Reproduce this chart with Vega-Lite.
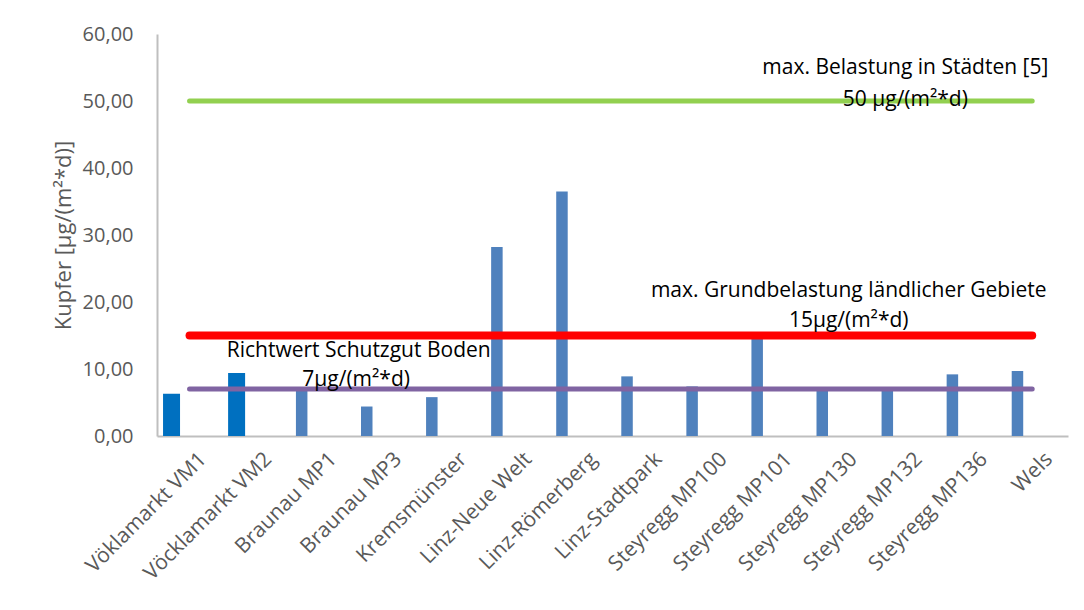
{
  "$schema": "https://vega.github.io/schema/vega-lite/v6.json",
  "width": 911,
  "height": 402,
  "autosize": {"type": "none"},
  "padding": {"left": 157, "top": 34, "right": 16, "bottom": 174},
  "background": "white",
  "config": {
    "view": {"stroke": null},
    "font": "Open Sans",
    "text": {"font": "Open Sans"}
  },
  "datasets": {
    "messung": [
      {"messstelle": "Vöklamarkt VM1", "wert": 6.3, "gruppe": "VM"},
      {"messstelle": "Vöcklamarkt VM2", "wert": 9.4, "gruppe": "VM"},
      {"messstelle": "Braunau MP1", "wert": 7.2, "gruppe": "MP"},
      {"messstelle": "Braunau MP3", "wert": 4.4, "gruppe": "MP"},
      {"messstelle": "Kremsmünster", "wert": 5.8, "gruppe": "MP"},
      {"messstelle": "Linz-Neue Welt", "wert": 28.2, "gruppe": "MP"},
      {"messstelle": "Linz-Römerberg", "wert": 36.5, "gruppe": "MP"},
      {"messstelle": "Linz-Stadtpark", "wert": 8.9, "gruppe": "MP"},
      {"messstelle": "Steyregg MP100", "wert": 7.4, "gruppe": "MP"},
      {"messstelle": "Steyregg MP101", "wert": 14.6, "gruppe": "MP"},
      {"messstelle": "Steyregg MP130", "wert": 7.1, "gruppe": "MP"},
      {"messstelle": "Steyregg MP132", "wert": 7.0, "gruppe": "MP"},
      {"messstelle": "Steyregg MP136", "wert": 9.2, "gruppe": "MP"},
      {"messstelle": "Wels", "wert": 9.7, "gruppe": "MP"}
    ],
    "grenzen": [
      {"name": "Staedte", "wert": 50, "von": 0.5, "bis": 13.45},
      {"name": "Land", "wert": 15, "von": 0.5, "bis": 13.45},
      {"name": "Boden", "wert": 7, "von": 0.5, "bis": 13.45}
    ],
    "beschriftung": [
      {"text": "max. Belastung in Städten [5]", "pos": 11.5, "wert": 54.9},
      {"text": "50 µg/(m²*d)", "pos": 11.5, "wert": 50.1},
      {"text": "max. Grundbelastung ländlicher Gebiete", "pos": 10.63, "wert": 21.6},
      {"text": "15µg/(m²*d)", "pos": 10.63, "wert": 17.2},
      {"text": "Richtwert Schutzgut Boden", "pos": 3.1, "wert": 12.7},
      {"text": "7µg/(m²*d)", "pos": 3.06, "wert": 8.4}
    ]
  },
  "resolve": {"scale": {"x": "independent"}, "axis": {"x": "independent"}},
  "layer": [
    {
      "data": {"name": "messung"},
      "mark": {"type": "bar", "xOffset": -18},
      "encoding": {
        "x": {
          "field": "messstelle", "type": "nominal", "sort": null,
          "scale": {"paddingInner": 0, "paddingOuter": 0},
          "axis": {
            "title": null, "labelAngle": -45, "labelFontSize": 21,
            "labelColor": "#595959", "ticks": false, "labelPadding": 12,
            "labelOffset": 6,
            "domainColor": "#BFBFBF", "domainWidth": 2, "labelFont": "Open Sans"
          }
        },
        "y": {
          "field": "wert", "type": "quantitative",
          "scale": {"domain": [0, 60], "nice": false},
          "axis": {
            "title": "Kupfer [µg/(m²*d)]", "titleFontSize": 22, "titleColor": "#595959",
            "titleFontWeight": "normal", "titleFont": "Open Sans", "titlePadding": 7,
            "values": [0, 10, 20, 30, 40, 50, 60],
            "labelExpr": "replace(format(datum.value, '.2f'), '.', ',')",
            "labelFontSize": 20, "labelColor": "#595959", "labelFont": "Open Sans",
            "ticks": false, "grid": false, "labelPadding": 24,
            "domainColor": "#BFBFBF", "domainWidth": 2
          }
        },
        "color": {
          "field": "gruppe", "type": "nominal",
          "scale": {"domain": ["VM", "MP"], "range": ["#0070C0", "#4F81BD"]},
          "legend": null
        },
        "size": {
          "field": "gruppe", "type": "nominal",
          "scale": {"domain": ["VM", "MP"], "range": [17, 11.5]},
          "legend": null
        }
      }
    },
    {
      "data": {"name": "grenzen"},
      "transform": [{"filter": "datum.name === 'Staedte'"}],
      "mark": {"type": "rule", "color": "#92D050", "strokeWidth": 5, "strokeCap": "round"},
      "encoding": {
        "x": {"field": "von", "type": "quantitative", "scale": {"domain": [0, 14], "nice": false}, "axis": null},
        "x2": {"field": "bis"},
        "y": {"field": "wert", "type": "quantitative"}
      }
    },
    {
      "data": {"name": "grenzen"},
      "transform": [{"filter": "datum.name === 'Land'"}],
      "mark": {"type": "rule", "color": "#FF0000", "strokeWidth": 8, "strokeCap": "round"},
      "encoding": {
        "x": {"field": "von", "type": "quantitative", "scale": {"domain": [0, 14], "nice": false}, "axis": null},
        "x2": {"field": "bis"},
        "y": {"field": "wert", "type": "quantitative"}
      }
    },
    {
      "data": {"name": "grenzen"},
      "transform": [{"filter": "datum.name === 'Boden'"}],
      "mark": {"type": "rule", "color": "#8064A2", "strokeWidth": 5, "strokeCap": "round"},
      "encoding": {
        "x": {"field": "von", "type": "quantitative", "scale": {"domain": [0, 14], "nice": false}, "axis": null},
        "x2": {"field": "bis"},
        "y": {"field": "wert", "type": "quantitative"}
      }
    },
    {
      "data": {"name": "beschriftung"},
      "mark": {"type": "text", "fontSize": 21, "color": "#000000", "align": "center", "baseline": "middle", "font": "Open Sans"},
      "encoding": {
        "x": {"field": "pos", "type": "quantitative", "scale": {"domain": [0, 14], "nice": false}, "axis": null},
        "y": {"field": "wert", "type": "quantitative"},
        "text": {"field": "text"}
      }
    }
  ]
}
